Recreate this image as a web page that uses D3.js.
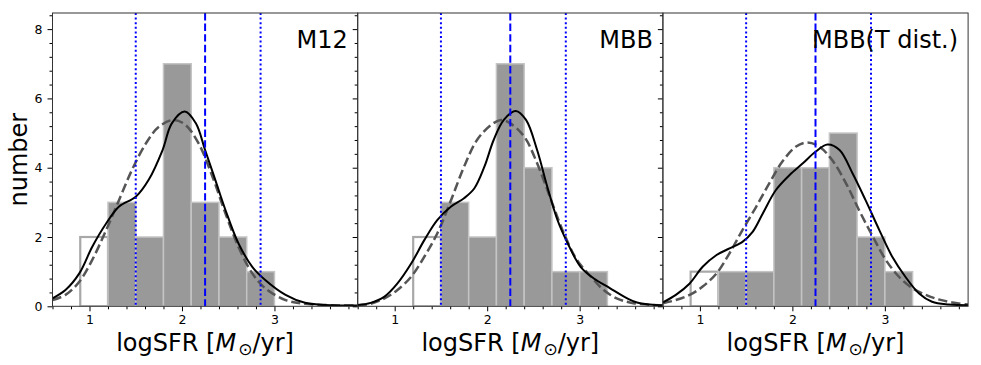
<!DOCTYPE html>
<html>
<head>
<meta charset="utf-8">
<script src="https://cdn.jsdelivr.net/npm/d3@7"></script>
<style>
  html, body { margin: 0; padding: 0; background: #fff; }
  text { font-family: "DejaVu Sans", sans-serif; }
</style>
</head>
<body>
<svg id="chart" width="981" height="365"></svg>
<script>
// histogram bins (logSFR), shared by all panels
const binEdges = [0.9, 1.2, 1.5, 1.8, 2.1, 2.4, 2.7, 3.0, 3.3];

// full sample (outline) and detected subsample (filled) counts per bin
const m12All = [2, 3, 2, 7, 3, 2, 1, 0];
const m12Det = [0, 3, 2, 7, 3, 2, 1, 0];
const mbbAll = [0, 2, 3, 2, 7, 4, 1, 1];
const mbbDet = [0, 0, 3, 2, 7, 4, 1, 1];
const mbbtAll = [1, 1, 1, 4, 4, 5, 2, 1];
const mbbtDet = [0, 1, 1, 4, 4, 5, 2, 1];

// KDE (solid) and Gaussian (dashed) curves
const m12KdeX = [0.60, 0.74, 0.89, 1.03, 1.18, 1.32, 1.50, 1.64, 1.79, 1.89, 2.03, 2.15, 2.25, 2.36, 2.47, 2.61, 2.76, 2.90, 3.12, 3.33, 3.55, 3.90];
const m12KdeY = [0.23, 0.47, 0.95, 1.72, 2.39, 2.88, 3.16, 3.65, 4.51, 5.28, 5.62, 5.28, 4.51, 3.65, 2.78, 1.82, 1.14, 0.76, 0.33, 0.10, 0.04, 0.02];
const m12GauX = [0.60, 0.74, 0.89, 1.03, 1.18, 1.32, 1.46, 1.61, 1.75, 1.91, 2.04, 2.18, 2.33, 2.47, 2.61, 2.76, 2.90, 3.12, 3.33, 3.90];
const m12GauY = [0.18, 0.33, 0.71, 1.34, 2.20, 3.07, 3.94, 4.70, 5.18, 5.38, 5.23, 4.70, 3.74, 2.68, 1.72, 0.95, 0.52, 0.18, 0.07, 0.02];

const mbbKdeX = [0.60, 0.74, 0.89, 1.03, 1.18, 1.32, 1.46, 1.61, 1.75, 1.86, 1.97, 2.07, 2.18, 2.31, 2.42, 2.54, 2.65, 2.76, 2.87, 3.01, 3.15, 3.33, 3.48, 3.62, 3.76, 3.90];
const mbbKdeY = [0.04, 0.10, 0.28, 0.66, 1.24, 1.91, 2.49, 2.88, 3.12, 3.40, 4.03, 4.80, 5.38, 5.64, 5.38, 4.51, 3.45, 2.49, 1.82, 1.14, 0.81, 0.52, 0.28, 0.11, 0.05, 0.02];
const mbbGauX = [0.60, 0.74, 0.89, 1.03, 1.18, 1.32, 1.46, 1.61, 1.75, 1.89, 2.04, 2.15, 2.25, 2.40, 2.54, 2.69, 2.83, 2.97, 3.12, 3.26, 3.40, 3.58, 3.90];
const mbbGauY = [0.02, 0.07, 0.23, 0.47, 0.86, 1.43, 2.10, 3.07, 4.03, 4.80, 5.23, 5.38, 5.28, 4.90, 4.13, 3.07, 2.10, 1.34, 0.86, 0.47, 0.23, 0.09, 0.03];

const mbbtKdeX = [0.60, 0.74, 0.89, 1.03, 1.18, 1.32, 1.46, 1.57, 1.68, 1.82, 1.97, 2.11, 2.25, 2.38, 2.51, 2.65, 2.79, 2.94, 3.08, 3.22, 3.37, 3.51, 3.69, 3.90];
const mbbtKdeY = [0.11, 0.33, 0.66, 1.14, 1.48, 1.67, 1.86, 2.15, 2.68, 3.35, 3.79, 4.12, 4.46, 4.67, 4.51, 3.84, 3.07, 2.20, 1.43, 0.86, 0.37, 0.13, 0.05, 0.03];
const mbbtGauX = [0.60, 0.74, 0.89, 1.03, 1.18, 1.32, 1.46, 1.61, 1.75, 1.89, 2.04, 2.16, 2.29, 2.43, 2.58, 2.72, 2.87, 3.01, 3.15, 3.30, 3.44, 3.58, 3.73, 3.90];
const mbbtGauY = [0.09, 0.18, 0.33, 0.57, 0.95, 1.53, 2.20, 2.88, 3.55, 4.17, 4.61, 4.73, 4.61, 4.22, 3.55, 2.78, 2.01, 1.34, 0.86, 0.52, 0.33, 0.20, 0.11, 0.05];

// median and 16/84 percentiles
const medianLine = 2.25;
const pctLines = [1.5, 2.85];

const panelNames = ['M12', 'MBB', 'MBB(T dist.)'];
const xTicks = [1, 2, 3];
const yTicks = [0, 2, 4, 6, 8];

const panels = [
    {name: panelNames[0], all: m12All, det: m12Det, kx: m12KdeX, ky: m12KdeY, gx: m12GauX, gy: m12GauY},
    {name: panelNames[1], all: mbbAll, det: mbbDet, kx: mbbKdeX, ky: mbbKdeY, gx: mbbGauX, gy: mbbGauY},
    {name: panelNames[2], all: mbbtAll, det: mbbtDet, kx: mbbtKdeX, ky: mbbtKdeY, gx: mbbtGauX, gy: mbbtGauY}
];

const svg = d3.select('#chart');
const left0 = 52.5, panelW = 305.2, plotTop = 13, plotBottom = 306.3;

const y = d3.scaleLinear().domain([0, 8.465]).range([plotBottom, plotTop]);

panels.forEach((p, i) => {
    const x0 = left0 + i * panelW;
    const x = d3.scaleLinear().domain([0.6, 3.9]).range([x0, x0 + panelW]);
    const g = svg.append('g');

    const clipId = 'clip' + i;
    svg.append('clipPath').attr('id', clipId)
        .append('rect')
        .attr('x', x0).attr('y', plotTop)
        .attr('width', panelW).attr('height', plotBottom - plotTop);

    const plot = g.append('g').attr('clip-path', `url(#${clipId})`);

    const bins = binEdges.slice(0, -1).map((e, k) => ({x0: e, x1: binEdges[k + 1], all: p.all[k], det: p.det[k]}));

    // open bars for the undetected part of the full sample
    plot.selectAll('.open').data(bins.filter(b => b.all > b.det))
        .join('rect')
        .attr('x', b => x(b.x0))
        .attr('y', b => y(b.all))
        .attr('width', b => x(b.x1) - x(b.x0))
        .attr('height', b => y(0) - y(b.all))
        .attr('fill', 'none')
        .attr('stroke', '#a8a8a8')
        .attr('stroke-width', 2.2);

    // filled bars
    plot.selectAll('.fill').data(bins.filter(b => b.det > 0))
        .join('rect')
        .attr('x', b => x(b.x0))
        .attr('y', b => y(b.det))
        .attr('width', b => x(b.x1) - x(b.x0))
        .attr('height', b => y(0) - y(b.det))
        .attr('fill', '#999999')
        .attr('stroke', '#c4c4c4')
        .attr('stroke-width', 1.5);

    const line = d3.line()
        .x(d => x(d[0]))
        .y(d => y(d[1]))
        .curve(d3.curveCatmullRom.alpha(0.5));

    plot.append('path')
        .attr('d', line(d3.zip(p.gx, p.gy)))
        .attr('fill', 'none')
        .attr('stroke', '#555555')
        .attr('stroke-width', 2.5)
        .attr('stroke-dasharray', '9.25,4');

    plot.append('path')
        .attr('d', line(d3.zip(p.kx, p.ky)))
        .attr('fill', 'none')
        .attr('stroke', '#000')
        .attr('stroke-width', 2);

    // vertical lines
    plot.append('line')
        .attr('x1', x(medianLine)).attr('x2', x(medianLine))
        .attr('y1', plotTop).attr('y2', plotBottom)
        .attr('stroke', '#0000ff')
        .attr('stroke-width', 2)
        .attr('stroke-dasharray', '7.4,3.2');

    plot.selectAll('.pct').data(pctLines)
        .join('line')
        .attr('x1', d => x(d)).attr('x2', d => x(d))
        .attr('y1', plotTop).attr('y2', plotBottom)
        .attr('stroke', '#0000ff')
        .attr('stroke-width', 2)
        .attr('stroke-dasharray', '2,2.6');

    // axes
    const xMinor = d3.range(0.6, 3.91, 0.2).filter(v => !xTicks.some(t => Math.abs(t - v) < 1e-6));
    g.append('g')
        .attr('transform', `translate(0,${plotBottom})`)
        .call(d3.axisBottom(x).tickValues(xMinor).tickSize(3).tickFormat(''))
        .call(a => a.select('.domain').remove());
    g.append('g')
        .attr('transform', `translate(0,${plotBottom})`)
        .call(d3.axisBottom(x).tickValues(xTicks).tickSize(5).tickPadding(4).tickFormat(d3.format('d')))
        .call(a => a.select('.domain').remove())
        .call(a => a.selectAll('text').attr('font-size', '12.5px').attr('fill', '#000')
            .attr('font-family', '"DejaVu Sans", sans-serif'));

    const yMinor = d3.range(0, 8.41, 0.4).filter(v => !yTicks.some(t => Math.abs(t - v) < 1e-6));
    g.append('g')
        .attr('transform', `translate(${x0},0)`)
        .call(d3.axisLeft(y).tickValues(yMinor).tickSize(3).tickFormat(''))
        .call(a => a.select('.domain').remove());
    g.append('g')
        .attr('transform', `translate(${x0},0)`)
        .call(d3.axisLeft(y).tickValues(yTicks).tickSize(5).tickPadding(5)
            .tickFormat(i === 0 ? d3.format('d') : ''))
        .call(a => a.select('.domain').remove())
        .call(a => a.selectAll('text').attr('font-size', '12.5px').attr('fill', '#000')
            .attr('font-family', '"DejaVu Sans", sans-serif'));

    // frame
    g.append('rect')
        .attr('x', x0).attr('y', plotTop)
        .attr('width', panelW).attr('height', plotBottom - plotTop)
        .attr('fill', 'none')
        .attr('stroke', '#333')
        .attr('stroke-width', 1);

    // panel name
    g.append('text')
        .attr('x', x0 + panelW - 10)
        .attr('y', 47.5)
        .attr('text-anchor', 'end')
        .attr('font-size', '24px')
        .attr('fill', '#000')
        .text(p.name);

    // x label
    const xl = g.append('text')
        .attr('x', x0 + panelW / 2)
        .attr('y', 351)
        .attr('text-anchor', 'middle')
        .attr('font-size', '24px')
        .attr('fill', '#000');
    xl.append('tspan').text('logSFR [');
    xl.append('tspan').attr('font-style', 'italic').text('M');
    xl.append('tspan').attr('font-size', '17px').attr('dy', 4).attr('dx', 2).text('\u2299');
    xl.append('tspan').attr('dy', -4).text('/yr]');
});

// y label
svg.append('text')
    .attr('transform', `translate(27,${(plotTop + plotBottom) / 2}) rotate(-90)`)
    .attr('text-anchor', 'middle')
    .attr('font-size', '24px')
    .attr('fill', '#000')
    .text('number');
</script>
</body>
</html>
